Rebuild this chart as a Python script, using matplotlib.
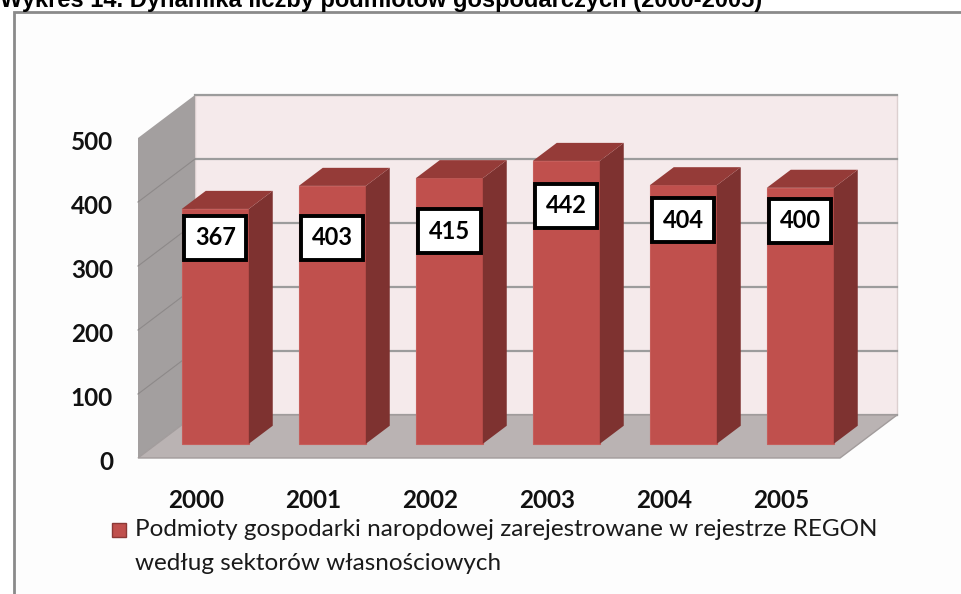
import matplotlib.pyplot as plt
from matplotlib.patches import Polygon, Rectangle

years = ["2000", "2001", "2002", "2003", "2004", "2005"]
values = [367, 403, 415, 442, 404, 400]
y_ticks = [0, 100, 200, 300, 400, 500]
title = "Wykres 14. Dynamika liczby podmiotów gospodarczych (2000-2005)"
legend_lines = ["Podmioty gospodarki naropdowej zarejestrowane w rejestrze REGON",
                "według sektorów własnościowych"]
# how far (px) each value box sits below its bar top in the original
label_drop = [29, 52, 53, 45, 35, 33]

W, H = 961, 594
X0, XS = 138, 117          # px of category 0, px per category
Y0, YS = 458, 0.64         # px of value 0, px per unit
DX, DY = 57 / XS, 43 / YS  # full depth offset in data units
D1, D2 = 0.33, 0.75        # bar front / back depth
BW = 67 / XS

RED, RED_SIDE, RED_TOP = "#c0504d", "#7e3230", "#953b38"


def p(x, v, d=0.0):
    return (x + d * DX, v + d * DY)


def px(x, y):
    # pixel position (from top left) -> data coords
    return ((x - X0) / XS, (Y0 - y) / YS)


def face(pts, color, ec=None, lw=0.0, z=1):
    ax.add_patch(Polygon(pts, closed=True, fc=color, ec=ec or color, lw=lw, zorder=z))


fig = plt.figure(figsize=(W / 100, H / 100), dpi=100)
ax = fig.add_axes([0, 0, 1, 1])
ax.set_xlim(-X0 / XS, (W - X0) / XS)
ax.set_ylim((Y0 - H) / YS, Y0 / YS)
ax.axis("off")

# outer frame, runs off the right and bottom edge
fx, fy = px(13.5, H + 20)
fx2, fy2 = px(W + 20, 12)
ax.add_patch(Rectangle((fx, fy), fx2 - fx, fy2 - fy, fc="#fdfdfd", ec="#8a8a8a",
                       lw=2.0, zorder=0, clip_on=False))

n = len(values)
top = max(y_ticks)

# walls and floor
face([p(0, 0, 1), p(n, 0, 1), p(n, top, 1), p(0, top, 1)], "#f5eaeb", ec="#dcd0d0", lw=1)
for t in y_ticks:
    a, b = p(0, t, 1), p(n, t, 1)
    ax.plot([a[0], b[0]], [a[1], b[1]], color="#9c9c9c", lw=1.6, zorder=2)
face([p(0, 0, 0), p(0, 0, 1), p(0, top, 1), p(0, top, 0)], "#a39f9f", z=3)
for t in y_ticks[1:-1]:
    a, b = p(0, t, 0), p(0, t, 1)
    ax.plot([a[0], b[0]], [a[1], b[1]], color="#8d8989", lw=0.8, zorder=3)
face([p(0, 0, 0), p(n, 0, 0), p(n, 0, 1), p(0, 0, 1)], "#bab3b3", ec="#a29c9c", lw=1, z=3)

# bars
for i, v in enumerate(values):
    xl = i + 0.5 - BW / 2
    xr = xl + BW
    face([p(xl, 0, D1), p(xr, 0, D1), p(xr, v, D1), p(xl, v, D1)], RED, ec="#c65e5b", lw=0.8, z=4)
    face([p(xr, 0, D1), p(xr, 0, D2), p(xr, v, D2), p(xr, v, D1)], RED_SIDE, z=4)
    face([p(xl, v, D1), p(xr, v, D1), p(xr, v, D2), p(xl, v, D2)], RED_TOP, z=4)
    cx, cy = p(i + 0.5, v - label_drop[i] / YS, D1)
    ax.text(cx, cy, str(v), ha="center", va="center", fontsize=17, fontweight="bold",
            family="Lato", zorder=6,
            bbox=dict(boxstyle="square,pad=0.45", fc="white", ec="black", lw=2.8))

# axis labels
for t in y_ticks:
    ax.text(*px(113, Y0 - t * YS + 4), str(t), ha="right", va="center",
            fontsize=17.5, fontweight="bold", family="Lato", color="#111111")
for i, yr in enumerate(years):
    ax.text(i + 0.5, px(0, 500)[1], yr, ha="center", va="center",
            fontsize=17.5, fontweight="bold", family="Lato", color="#111111")

# legend
lx, ly = px(112, 537)
ax.add_patch(Rectangle((lx, ly), 14 / XS, 14 / YS, fc=RED, ec="#8c3836", lw=1, zorder=5))
for k, line in enumerate(legend_lines):
    ax.text(*px(135, 530 + 33 * k), line, ha="left", va="center",
            fontsize=17.5, family="Lato", color="#1a1a1a")

ax.text(*px(0, 7), title, ha="left", va="baseline", fontsize=17, fontweight="bold",
        family="Liberation Sans", color="black", clip_on=False)

fig.savefig("out.png", dpi=100)
